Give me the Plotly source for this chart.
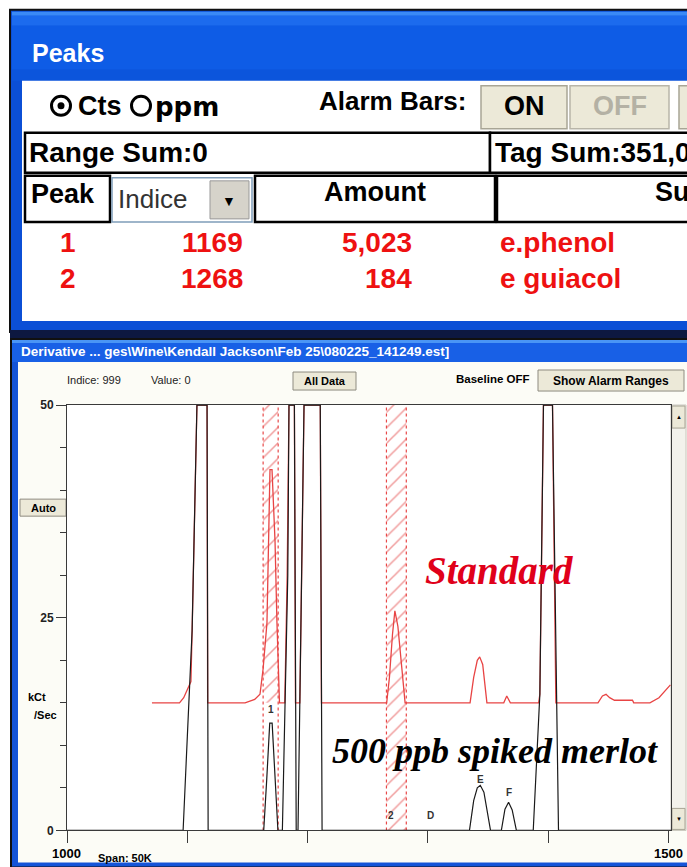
import plotly.graph_objects as go

W, H = 687, 867

# ---------------- data ----------------
# black trace: 500 ppb spiked merlot (kCt/Sec vs Indice)
sample_x = [1000, 1096.5, 1100, 1104, 1108, 1116.4, 1117.3, 1163.5, 1166, 1168.5, 1170.5, 1173, 1175.3,
            1179, 1182, 1183.5, 1184.5, 1189, 1190.5, 1192, 1195, 1197, 1210.5, 1212,
            1334.5, 1338, 1341, 1343.5, 1346.5, 1350, 1352, 1361, 1364, 1367, 1370, 1373.5,
            1387.5, 1393, 1396, 1403.5, 1408.5, 1502]
sample_y = [0, 0, 11, 23.5, 50, 50, 0, 0, 6, 12.6, 12.6, 6, 0,
            0, 18, 30, 50, 50, 0, 0, 30, 50, 50, 0,
            0, 3.5, 5.0, 5.3, 4.5, 1.5, 0, 0, 2.5, 3.3, 2.4, 0,
            0, 16, 50, 50, 0, 0]

# red trace: Standard (displayed with its baseline at 15)
standard_x = [1070.6, 1093.5, 1097, 1100, 1103, 1104, 1108, 1116.4, 1116.9, 1148, 1156, 1160.4, 1163,
              1166.2, 1168.7, 1170.4, 1172.9, 1174.5, 1176.6, 1181, 1183, 1184.5, 1189, 1189.9,
              1193.5, 1195, 1197, 1210.5, 1211.5, 1265.7, 1268, 1270.5, 1272.5, 1275, 1278, 1281,
              1335, 1338, 1341, 1343, 1345.5, 1349, 1363, 1365.5, 1368.5, 1392, 1393, 1396, 1403.5,
              1406.3, 1441.3, 1445, 1448, 1451, 1455, 1470, 1471, 1484.5, 1492, 1497, 1501.5]
standard_y = [15, 15, 15.6, 16.6, 17.5, 23.5, 50, 50, 15, 15, 15.4, 16, 19,
              24.4, 42.4, 42.4, 34, 24.4, 15, 15, 30, 50, 50, 15,
              15, 30, 50, 50, 15, 15, 18, 23, 25.8, 24, 19, 15,
              15, 18, 20, 20.4, 19.5, 15, 15, 15.8, 15, 15, 16, 50, 50,
              15, 15, 15.8, 16, 15.6, 15.3, 15.3, 15, 15, 15.6, 16.4, 17.1]

alarm_lo = [1163.0, 1265.5]
alarm_hi = [1175.5, 1282.0]
alarm_hatch_bottom = [15, 0]

peak_labels = ["1", "2", "D", "E", "F"]
peak_label_x = [1169.5, 1269, 1302, 1343.5, 1367]
peak_label_y = [14.2, 1.8, 1.8, 6.0, 4.5]

x_ticks = [1000, 1100, 1200, 1300, 1400, 1500]
y_ticks = [0, 25, 50]
y_ticktext = ["0", "25", "50"]

table_rows = [["1", "1169", "5,023", "e.phenol"],
              ["2", "1268", "184", "e guiacol"]]

SANS = "Liberation Sans, Arial, sans-serif"
WIDE = "DejaVu Sans, Liberation Sans, sans-serif"
SERIF = "Liberation Serif, Times New Roman, serif"
RED = "#EE1111"

# the photographed page is squeezed slightly in height; place things so they land on target pixels
SY, OY = 0.983, 7.3


def X(px):
    return px / W


def Y(py):
    return 1 - ((py - OY) / SY) / H


shapes = []
ann = []


def rect(x0, y0, x1, y1, fill=None, line=None, lw=0):
    shapes.append(dict(type="rect", xref="paper", yref="paper", x0=X(x0), x1=X(x1), y0=Y(y1), y1=Y(y0),
                       fillcolor=fill if fill else "rgba(0,0,0,0)",
                       line=dict(color=line if line else "rgba(0,0,0,0)", width=lw), layer="below"))


def circ(cx, cy, r, fill=None, line=None, lw=0):
    shapes.append(dict(type="circle", xref="paper", yref="paper", x0=X(cx - r), x1=X(cx + r),
                       y0=Y(cy + r), y1=Y(cy - r), fillcolor=fill if fill else "rgba(0,0,0,0)",
                       line=dict(color=line if line else "rgba(0,0,0,0)", width=lw), layer="below"))


def txt(x, y, s, size, color="#000", bold=True, anchor="left", family=SANS):
    ann.append(dict(x=X(x), y=Y(y), xref="paper", yref="paper", text=("<b>%s</b>" % s) if bold else s,
                    showarrow=False, xanchor=anchor, yanchor="middle",
                    font=dict(size=size, color=color, family=family), borderpad=0))


# ---------------- window 1 : Peaks ----------------
rect(10, 10, 700, 332, fill="#0B4FD6", line="#101010", lw=2)
rect(12, 12, 700, 16, fill="#3A8AF6")
rect(12, 16, 700, 26, fill="#1C6BEE")
rect(12, 26, 700, 70, fill="#0E5CE6")
rect(12, 70, 700, 81, fill="#0C55DC")
rect(22, 81, 700, 321, fill="#FFFFFF")
txt(31, 53, "Peaks", 25, color="#FFFFFF")

# row 1
circ(61, 106, 9.5, line="#000", lw=3)
circ(61, 106, 3.5, fill="#000")
txt(77, 106, "Cts", 27)
circ(141, 106, 9.5, line="#000", lw=3)
txt(154, 107, "ppm", 26, family=WIDE)
txt(318, 101, "Alarm Bars:", 26)
rect(481, 86, 567, 129, fill="#ECE9D8", line="#A8A595", lw=1.5)
txt(524, 106, "ON", 27, anchor="center")
rect(570, 86, 669, 129, fill="#ECE9D8", line="#B8B5A8", lw=1.5)
txt(620, 106, "OFF", 27, color="#B4B1A4", anchor="center")
rect(679, 86, 700, 129, fill="#ECE9D8", line="#A8A595", lw=1.5)

# row 2
rect(25, 133, 490, 173, fill="#FFFFFF", line="#000", lw=2.5)
rect(490, 133, 700, 173, fill="#FFFFFF", line="#000", lw=2.5)
txt(28, 153, "Range Sum:0", 28)
txt(494, 153, "Tag Sum:351,0", 28)

# row 3
rect(25, 176, 110, 222, fill="#FFFFFF", line="#000", lw=2.5)
txt(30, 194, "Peak", 27)
rect(112, 178, 252, 222, fill="#FFFFFF", line="#7F9DB9", lw=1.5)
txt(117, 199, "Indice", 26, color="#333", bold=False)
rect(210, 181, 249, 219, fill="#D6D3CA", line="#999", lw=1)
txt(229, 201, "▼", 14, anchor="center")
rect(255, 176, 495, 222, fill="#FFFFFF", line="#000", lw=2.5)
txt(375, 192, "Amount", 27, anchor="center")
rect(497, 176, 700, 222, fill="#FFFFFF", line="#000", lw=2.5)
txt(654, 192, "Su", 27)

for i, row in enumerate(table_rows):
    yy = 243 + i * 36
    txt(68, yy, row[0], 28, color=RED, anchor="center")
    txt(244, yy, row[1], 28, color=RED, anchor="right")
    txt(413, yy, row[2], 28, color=RED, anchor="right")
    txt(499, yy, row[3], 28, color=RED)

# band between windows
rect(10, 330, 700, 339, fill="#0D1840")

# ---------------- window 2 : Derivative ----------------
rect(11, 339, 700, 867, fill="#1454D8", line="#101010", lw=2)
rect(12, 340, 700, 343, fill="#4A95F5")
rect(12, 343, 700, 362, fill="#1860E6")
rect(18, 362, 700, 862, fill="#FCFCF6")
txt(20, 352, r"Derivative ... ges\Wine\Kendall Jackson\Feb 25\080225_141249.est]", 13.5, color="#FFFFFF")

# toolbar
txt(66, 380, "Indice: 999", 11, color="#222", bold=False)
txt(150, 380, "Value: 0", 11, color="#222", bold=False)
rect(293, 372, 356, 390, fill="#ECE9D8", line="#8E8B80", lw=1)
txt(324.5, 381, "All Data", 11, anchor="center")
txt(455, 379, "Baseline OFF", 11.5)
rect(538, 370, 684, 391, fill="#ECE9D8", line="#8E8B80", lw=1)
txt(611, 381, "Show Alarm Ranges", 12, anchor="center")

# plot area background and scrollbar
rect(67, 405, 671, 830, fill="#FFFFFF")
rect(671, 405, 686, 830, fill="#F3F2EC", line="#C8C6BC", lw=1)
rect(672, 406, 685, 428, fill="#ECE9D8", line="#A8A595", lw=1)
rect(672, 808, 685, 829, fill="#ECE9D8", line="#A8A595", lw=1)
txt(678.5, 417, "▲", 6, anchor="center", bold=False)
txt(678.5, 819, "▼", 6, anchor="center", bold=False)

# Auto button and axis captions
rect(20, 499, 66, 516, fill="#ECE9D8", line="#8E8B80", lw=1)
txt(43, 507.5, "Auto", 11, anchor="center")
txt(27, 697, "kCt", 11)
txt(33, 715, "/Sec", 11)
txt(66, 853, "1000", 13, anchor="center")
txt(97, 858, "Span: 50K", 11)
txt(684, 853, "1500", 13, anchor="right")

fig = go.Figure()

# alarm ranges (hatched)
for lo, hi, hb in zip(alarm_lo, alarm_hi, alarm_hatch_bottom):
    fig.add_trace(go.Scatter(x=[lo, lo, hi, hi, lo], y=[hb, 50, 50, hb, hb], mode="lines", fill="toself",
                             fillcolor="rgba(0,0,0,0)", line=dict(width=0, color="rgba(0,0,0,0)"),
                             fillpattern=dict(shape="/", fgcolor="#E23A3A", bgcolor="rgba(0,0,0,0)",
                                              size=11, solidity=0.14),
                             hoverinfo="skip"))
    fig.add_trace(go.Scatter(x=[lo, lo, None, hi, hi], y=[0, 50, None, 0, 50], mode="lines",
                             line=dict(color="#E84848", width=1.2, dash="dot"), hoverinfo="skip"))

fig.add_trace(go.Scatter(x=standard_x, y=standard_y, mode="lines", name="Standard",
                         line=dict(color="#E84444", width=1.3)))
fig.add_trace(go.Scatter(x=sample_x, y=sample_y, mode="lines", name="500 ppb spiked merlot",
                         line=dict(color="#1A1A1A", width=1.2)))

for lab, lx, ly in zip(peak_labels, peak_label_x, peak_label_y):
    ann.append(dict(x=lx, y=ly, xref="x", yref="y", text="<b>%s</b>" % lab, showarrow=False,
                    font=dict(size=10, color="#333", family=SANS)))

ann.append(dict(x=1359, y=30.6, xref="x", yref="y", text="<b><i>Standard</i></b>", showarrow=False,
                font=dict(size=39, color="#E0001A", family=SERIF)))
ann.append(dict(x=1356, y=9.3, xref="x", yref="y", text="<b><i>500 ppb spiked merlot</i></b>",
                showarrow=False, font=dict(size=36, color="#000", family=SERIF)))

fig.update_layout(
    width=W, height=H, margin=dict(l=0, r=0, t=0, b=0),
    paper_bgcolor="#FFFFFF", plot_bgcolor="rgba(0,0,0,0)", showlegend=False,
    shapes=shapes, annotations=ann,
    xaxis=dict(domain=[X(67), X(671)], range=[1000, 1502], showgrid=False, zeroline=False,
               showline=True, mirror=True, linecolor="#3A3A3A", linewidth=1,
               tickvals=x_ticks, ticks="outside", ticklen=12, tickcolor="#3A3A3A", showticklabels=False),
    yaxis=dict(domain=[Y(830), Y(405)], range=[0, 50], showgrid=False, zeroline=False,
               showline=True, mirror=True, linecolor="#3A3A3A", linewidth=1,
               tickvals=y_ticks, ticktext=["<b>%s</b>" % t for t in y_ticktext], ticks="outside",
               ticklen=10, tickcolor="#3A3A3A", tickfont=dict(size=12, color="#222", family=SANS),
               minor=dict(dtick=5, ticks="outside", ticklen=6, tickcolor="#3A3A3A")),
)

fig.write_html("out.html", config={"displayModeBar": False},
               post_script="document.body.style.margin='0';document.body.style.overflow='hidden';")
